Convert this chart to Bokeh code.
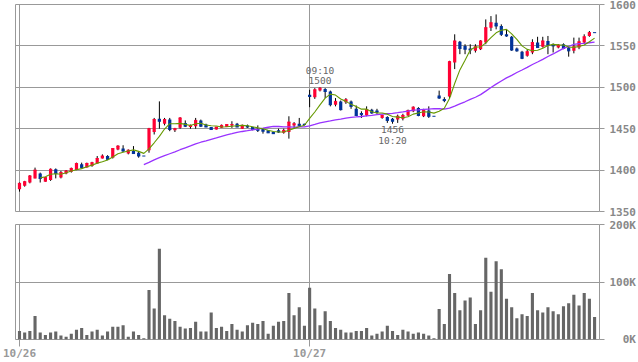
from bokeh.plotting import figure
from bokeh.layouts import column
from bokeh.models import Range1d, FixedTicker, ColumnDataSource
from bokeh.core.properties import value
from bokeh.embed import file_html
from bokeh.resources import INLINE
import numpy as np

# ---- data (5-minute bars, two sessions) ----
date_labels = ["10/26", "10/27"]
date_index = [0, 56]

opens = [1377, 1381, 1385, 1390, 1396, 1386, 1388, 1401, 1391, 1396,
         1398, 1400, 1407, 1403, 1405, 1408, 1414, 1417, 1415, 1425,
         1426, 1420, 1423, 1421, 1417, 1424, 1446, 1462, 1456, 1461,
         1448, 1451, 1457, 1452, 1453, 1460, 1455, 1452, 1449, 1451,
         1452, 1454, 1456, 1450, 1454, 1452, 1450, 1450, 1448, 1446,
         1448, 1445, 1446, 1454, 1456, 1456,
         1491, 1488, 1496, 1498, 1495, 1479, 1483, 1482, 1483, 1474,
         1469, 1466, 1473, 1472, 1463, 1464, 1462, 1461, 1462, 1466,
         1471, 1475, 1465, 1472, 1465, 1490, 1486, 1489, 1530, 1555,
         1550, 1547, 1544, 1546, 1554, 1572, 1578, 1574, 1564, 1561,
         1547, 1543, 1538, 1542, 1554, 1549, 1556, 1552, 1548, 1552,
         1548, 1544, 1548, 1554, 1562, 1566]
highs = [1385, 1387, 1394, 1403, 1397, 1391, 1402, 1402, 1399, 1400,
         1403, 1409, 1409, 1409, 1410, 1417, 1419, 1418, 1426, 1430,
         1430, 1425, 1429, 1422, 1417, 1451, 1463, 1483, 1463, 1463,
         1451, 1464, 1460, 1455, 1463, 1461, 1456, 1452, 1452, 1455,
         1455, 1459, 1457, 1455, 1455, 1452, 1454, 1450, 1448, 1446,
         1450, 1450, 1465, 1458, 1463, 1456,
         1497, 1499, 1500, 1499, 1496, 1487, 1484, 1487, 1484, 1478,
         1471, 1477, 1474, 1474, 1467, 1465, 1463, 1467, 1468, 1473,
         1477, 1476, 1474, 1477, 1465, 1496, 1488, 1532, 1564, 1556,
         1552, 1552, 1552, 1557, 1582, 1586, 1588, 1576, 1570, 1562,
         1548, 1544, 1546, 1558, 1561, 1561, 1562, 1553, 1552, 1553,
         1549, 1560, 1560, 1564, 1568, 1566]
lows = [1374, 1380, 1384, 1390, 1385, 1386, 1387, 1390, 1390, 1395,
        1397, 1400, 1402, 1403, 1404, 1408, 1414, 1412, 1414, 1424,
        1422, 1419, 1420, 1415, 1417, 1421, 1443, 1450, 1454, 1447,
        1446, 1450, 1452, 1450, 1450, 1452, 1452, 1449, 1449, 1451,
        1452, 1451, 1452, 1450, 1451, 1448, 1446, 1444, 1445, 1444,
        1445, 1444, 1438, 1450, 1452, 1454,
        1476, 1486, 1495, 1487, 1477, 1477, 1472, 1480, 1474, 1465,
        1463, 1465, 1468, 1468, 1462, 1457, 1456, 1457, 1460, 1465,
        1470, 1465, 1464, 1463, 1465, 1486, 1482, 1486, 1522, 1540,
        1540, 1540, 1542, 1545, 1552, 1568, 1570, 1562, 1561, 1544,
        1543, 1534, 1537, 1540, 1548, 1548, 1540, 1542, 1547, 1546,
        1537, 1541, 1546, 1553, 1561, 1566]
closes = [1384, 1386, 1393, 1400, 1390, 1391, 1401, 1396, 1397, 1399,
          1402, 1408, 1403, 1408, 1409, 1414, 1417, 1413, 1426, 1429,
          1423, 1424, 1420, 1417, 1417, 1450, 1461, 1459, 1461, 1449,
          1450, 1463, 1453, 1454, 1460, 1453, 1452, 1449, 1452, 1454,
          1455, 1455, 1452, 1454, 1452, 1449, 1448, 1447, 1445, 1444,
          1446, 1448, 1458, 1456, 1454, 1455,
          1489, 1497, 1499, 1495, 1479, 1483, 1473, 1485, 1477, 1466,
          1467, 1473, 1469, 1470, 1466, 1460, 1459, 1465, 1466, 1472,
          1476, 1466, 1472, 1465, 1465, 1487, 1484, 1531, 1556, 1547,
          1546, 1545, 1549, 1556, 1572, 1578, 1574, 1564, 1562, 1545,
          1544, 1535, 1543, 1554, 1548, 1556, 1551, 1550, 1551, 1547,
          1544, 1549, 1555, 1561, 1566, 1566]
volumes_k = [15, 12, 15, 41, 12, 8, 12, 14, 7, 5,
             10, 17, 20, 8, 14, 17, 7, 14, 22, 22,
             25, 5, 14, 8, 2, 86, 54, 158, 42, 36,
             32, 22, 19, 20, 31, 14, 14, 47, 20, 22,
             15, 27, 17, 14, 25, 29, 27, 32, 10, 24,
             31, 32, 81, 42, 56, 24,
             90, 54, 25, 49, 32, 20, 17, 12, 12, 15,
             15, 20, 7, 10, 14, 24, 15, 8, 17, 14,
             10, 12, 10, 7, 2, 53, 27, 114, 81, 51,
             68, 73, 27, 51, 142, 83, 136, 122, 71, 56,
             37, 44, 41, 81, 51, 47, 56, 49, 44, 58,
             63, 78, 59, 81, 71, 39]

price_ticks = [1350, 1400, 1450, 1500, 1550, 1600]
price_tick_labels = ["1350", "1400", "1450", "1500", "1550", "1600"]
volume_ticks = [0, 100000, 200000]
volume_tick_labels = ["0K", "100K", "200K"]

ann_index = [58, 72]
ann_time = ["09:10", "10:20"]
ann_price = [1500, 1456]

short_ma_n = 5
long_ma_n = 25

UP = "#ff0033"
DOWN = "#003399"
GRID = "#999999"
AXIS_FONT = "DejaVu Sans Mono"


def sma(vals, n):
    out = [np.nan] * len(vals)
    for i in range(n - 1, len(vals)):
        out[i] = sum(vals[i - n + 1:i + 1]) / n
    return out


n = len(closes)
idx = list(range(n))
src = ColumnDataSource(dict(
    x=idx, o=opens, h=highs, l=lows, c=closes,
    top=[max(a, b) for a, b in zip(opens, closes)],
    bot=[min(a, b) for a, b in zip(opens, closes)],
    col=[UP if c > o else DOWN for o, c in zip(opens, closes)],
    xl=[i - 0.3 for i in idx], xr=[i + 0.3 for i in idx],
    vol=[v * 1000 for v in volumes_k],
    ma_s=sma(closes, short_ma_n), ma_l=sma(closes, long_ma_n),
))

x_rng = Range1d(-0.77, 111.95)

# ---------------- price panel ----------------
p1 = figure(width=638, height=218, x_range=x_rng, y_range=Range1d(1350, 1600),
            output_backend="svg", toolbar_location=None,
            x_axis_location=None, y_axis_location="right",
            min_border_left=15, min_border_right=38,
            min_border_top=4, min_border_bottom=7)
p1.outline_line_color = GRID
p1.background_fill_color = "white"
p1.border_fill_color = "white"

p1.segment(x0="x", y0="l", x1="x", y1="h", source=src, line_color="#000000", line_width=1)
p1.vbar(x="x", top="top", bottom="bot", width=0.62, source=src,
        fill_color="col", line_color=None)
p1.segment(x0="xl", y0="c", x1="xr", y1="c", source=src, line_color="col", line_width=1)
p1.line(x="x", y="ma_l", source=src, line_color="#9933ff", line_width=1.3)
p1.line(x="x", y="ma_s", source=src, line_color="#669900", line_width=1.1)

# high / low annotations
hi_src = ColumnDataSource(dict(x=[ann_index[0]] * 2, y=[ann_price[0]] * 2,
                               t=[str(ann_price[0]), ann_time[0]], off=[-7, -17]))
lo_src = ColumnDataSource(dict(x=[ann_index[1]] * 2, y=[ann_price[1]] * 2,
                               t=[str(ann_price[1]), ann_time[1]], off=[2, 11]))
p1.text(x="x", y="y", text="t", y_offset="off", source=hi_src, text_align="center",
        text_baseline="alphabetic", text_font=value(AXIS_FONT), text_font_size="9.5px",
        text_color="#666666")
p1.text(x="x", y="y", text="t", y_offset="off", source=lo_src, text_align="center",
        text_baseline="top", text_font=value(AXIS_FONT), text_font_size="9.5px",
        text_color="#666666")

ya = p1.yaxis[0]
ya.ticker = FixedTicker(ticks=price_ticks)
ya.major_label_overrides = {t: s for t, s in zip(price_ticks, price_tick_labels)}
ya.axis_line_color = None
ya.major_tick_line_color = GRID
ya.major_tick_out = 5
ya.major_tick_in = 0
ya.minor_tick_line_color = None
ya.major_label_standoff = 5
ya.major_label_text_font = AXIS_FONT
ya.major_label_text_font_style = "bold"
ya.major_label_text_font_size = "11px"
ya.major_label_text_color = "#888888"

p1.xgrid.ticker = FixedTicker(ticks=date_index)
p1.xgrid.grid_line_color = GRID
p1.ygrid.ticker = FixedTicker(ticks=[t for t in price_ticks[1:-1]])
p1.ygrid.grid_line_color = GRID

# ---------------- volume panel ----------------
p2 = figure(width=638, height=144, x_range=x_rng, y_range=Range1d(0, 200000),
            output_backend="svg", toolbar_location=None,
            x_axis_location="below", y_axis_location="right",
            min_border_left=15, min_border_right=38,
            min_border_top=6, min_border_bottom=20)
p2.outline_line_color = GRID
p2.vbar(x="x", top="vol", bottom=0, width=0.6, source=src,
        fill_color="#666666", line_color=None)

va = p2.yaxis[0]
va.ticker = FixedTicker(ticks=volume_ticks)
va.major_label_overrides = {t: s.rjust(4, "\u00a0") for t, s in zip(volume_ticks, volume_tick_labels)}
va.axis_line_color = None
va.major_tick_line_color = GRID
va.major_tick_out = 5
va.major_tick_in = 0
va.minor_tick_line_color = None
va.major_label_standoff = 5
va.major_label_text_font = AXIS_FONT
va.major_label_text_font_style = "bold"
va.major_label_text_font_size = "11px"
va.major_label_text_color = "#888888"

xa = p2.xaxis[0]
xa.ticker = FixedTicker(ticks=date_index)
xa.major_label_overrides = {t: s for t, s in zip(date_index, date_labels)}
xa.axis_line_color = None
xa.major_tick_line_color = GRID
xa.major_tick_out = 7
xa.major_tick_in = 0
xa.minor_tick_line_color = None
xa.major_label_standoff = 0
xa.major_label_text_font = AXIS_FONT
xa.major_label_text_font_style = "bold"
xa.major_label_text_font_size = "11px"
xa.major_label_text_color = "#999999"

p2.xgrid.ticker = FixedTicker(ticks=date_index)
p2.xgrid.grid_line_color = GRID
p2.ygrid.ticker = FixedTicker(ticks=[volume_ticks[1]])
p2.ygrid.grid_line_color = GRID

layout = column(p1, p2, spacing=0,
                styles={"position": "absolute", "left": "0px", "top": "0px"})

open("out.html", "w").write(file_html(layout, INLINE))
